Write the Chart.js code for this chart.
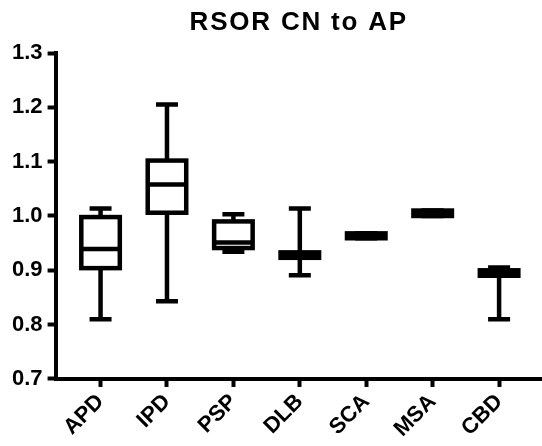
<!DOCTYPE html>
<html>
<head>
<meta charset="utf-8">
<script src="https://cdn.jsdelivr.net/npm/chart.js@4.4.1/dist/chart.umd.min.js"></script>
<style>
  html, body { margin: 0; padding: 0; background: #fff; }
  canvas { display: block; }
</style>
</head>
<body>
<canvas id="c" width="542" height="446"></canvas>
<script>
// ---- data ----
const categories = ['APD', 'IPD', 'PSP', 'DLB', 'SCA', 'MSA', 'CBD'];
const mins    = [0.810, 0.843, 0.934, 0.891, 0.959, 1.000, 0.810];
const q1s     = [0.904, 1.006, 0.941, 0.923, 0.959, 1.000, 0.890];
const medians = [0.939, 1.058, 0.951, 0.928, 0.963, 1.005, 0.895];
const q3s     = [0.998, 1.102, 0.990, 0.933, 0.968, 1.010, 0.900];
const maxs    = [1.014, 1.205, 1.003, 1.014, 0.968, 1.010, 0.905];
const yTicks  = [0.7, 0.8, 0.9, 1.0, 1.1, 1.2, 1.3];
const title   = 'RSOR CN to AP';

const LW = 4.5;          // stroke width of box elements
const BOX_HALF = 19.25;  // half box width (stroke centre)
const CAP_HALF = 11;     // half whisker-cap length

Chart.defaults.font.family = "'Liberation Sans', Arial, sans-serif";
Chart.defaults.color = '#000';

const boxPlugin = {
  id: 'boxes',
  beforeDraw(chart) {
    // slightly wider tracking for the title text (drawn before the datasets)
    chart.ctx.letterSpacing = '1.8px';
  },
  beforeDatasetsDraw(chart) {
    const ctx = chart.ctx;
    ctx.letterSpacing = '0px';
    const xs = chart.scales.x, ys = chart.scales.y;
    ctx.save();
    ctx.strokeStyle = '#000';
    ctx.lineWidth = LW;
    ctx.lineCap = 'butt';
    ctx.lineJoin = 'miter';
    categories.forEach((c, i) => {
      const x = xs.getPixelForValue(i);
      const yMin = ys.getPixelForValue(mins[i]);
      const yQ1 = ys.getPixelForValue(q1s[i]);
      const yQ3 = ys.getPixelForValue(q3s[i]);
      const yMax = ys.getPixelForValue(maxs[i]);
      // whiskers
      ctx.beginPath();
      ctx.moveTo(x, yMax); ctx.lineTo(x, yQ3);
      ctx.moveTo(x, yQ1); ctx.lineTo(x, yMin);
      ctx.stroke();
      // caps
      ctx.beginPath();
      ctx.moveTo(x - CAP_HALF, yMax); ctx.lineTo(x + CAP_HALF, yMax);
      ctx.moveTo(x - CAP_HALF, yMin); ctx.lineTo(x + CAP_HALF, yMin);
      ctx.stroke();
      // box
      ctx.fillStyle = '#fff';
      ctx.fillRect(x - BOX_HALF, yQ3, 2 * BOX_HALF, yQ1 - yQ3);
      ctx.strokeRect(x - BOX_HALF, yQ3, 2 * BOX_HALF, yQ1 - yQ3);
    });
    ctx.restore();
  }
};

new Chart(document.getElementById('c'), {
  type: 'scatter',
  data: {
    datasets: [{
      label: 'median',
      data: medians.map((m, i) => ({ x: i, y: m })),
      pointStyle: 'line',
      pointRadius: BOX_HALF,
      pointHoverRadius: BOX_HALF,
      borderColor: '#000',
      backgroundColor: '#000',
      borderWidth: LW,
      pointBorderWidth: LW,
      clip: false
    }]
  },
  options: {
    responsive: false,
    animation: false,
    events: [],
    layout: { autoPadding: false, padding: { left: 7, right: 0, top: 0, bottom: 1.8 } },
    plugins: {
      legend: { display: false },
      tooltip: { enabled: false },
      title: {
        display: true,
        text: title,
        fullSize: false,
        color: '#000',
        font: { size: 26, weight: 'bold' },
        padding: { top: 7.6, bottom: 14.2 }
      }
    },
    scales: {
      x: {
        type: 'linear',
        min: -0.677,
        max: 6.646,
        afterBuildTicks(scale) { scale.ticks = categories.map((c, i) => ({ value: i })); },
        ticks: {
          z: 1,
          autoSkip: false,
          minRotation: 45,
          maxRotation: 45,
          padding: 2,
          font: { size: 22, weight: 'bold' },
          callback: (v) => categories[v] ?? ''
        },
        grid: { drawOnChartArea: false, drawTicks: true, tickLength: 8, tickWidth: 4, tickColor: '#000' },
        border: { display: true, width: 4, color: '#000', z: 1 }
      },
      y: {
        min: 0.7,
        max: 1.3,
        afterBuildTicks(scale) { scale.ticks = yTicks.map(v => ({ value: v })); },
        ticks: {
          z: 1,
          padding: 5,
          font: { size: 22, weight: 'bold' },
          callback: (v) => Number(v).toFixed(1)
        },
        grid: { drawOnChartArea: false, drawTicks: true, tickLength: 8, tickWidth: 4, tickColor: '#000' },
        border: { display: true, width: 4, color: '#000', z: 1 }
      }
    }
  },
  plugins: [boxPlugin]
});
</script>
</body>
</html>
